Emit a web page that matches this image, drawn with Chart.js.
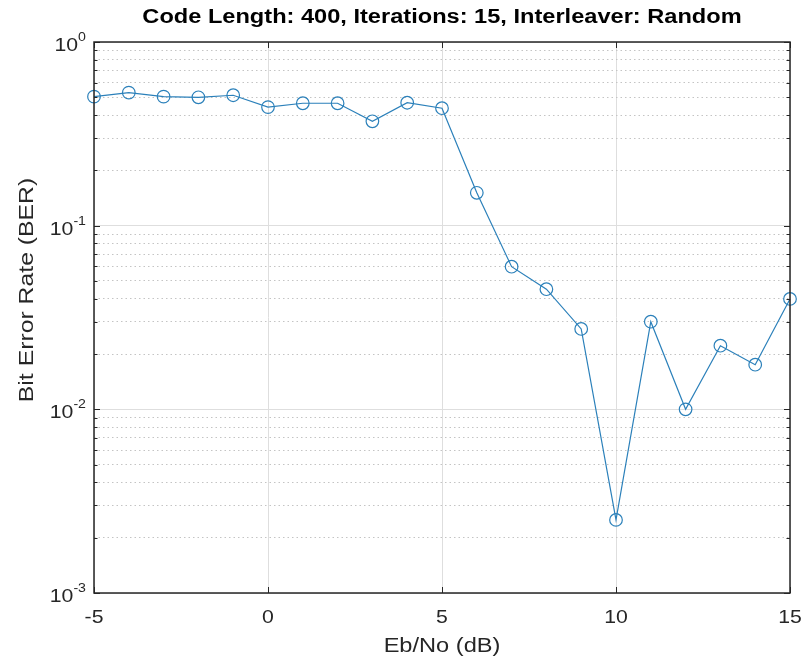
<!DOCTYPE html>
<html><head><meta charset="utf-8">
<script src="https://cdn.jsdelivr.net/npm/chart.js@4.4.0/dist/chart.umd.min.js"></script>
<style>html,body{margin:0;padding:0;background:#fff}#wrap{width:806px;height:662px;position:relative}</style>
</head><body><div id="wrap"><canvas id="c"></canvas></div>
<script>
const ebNo = [-5, -4, -3, -2, -1, 0, 1, 2, 3, 4, 5, 6, 7, 8, 9, 10, 11, 12, 13, 14, 15];
const ber = [0.504, 0.530, 0.504, 0.500, 0.513, 0.442, 0.464, 0.464, 0.370, 0.467, 0.436,
             0.151, 0.0598, 0.0451, 0.0274, 0.0025, 0.0300, 0.0100, 0.0222, 0.0175, 0.0399];
const xTicks = [-5, 0, 5, 10, 15];
const yDecades = [0.001, 0.01, 0.1, 1];
const yExponents = ['-3', '-2', '-1', '0'];
const titleText = 'Code Length: 400, Iterations: 15, Interleaver: Random';
const xLabel = 'Eb/No (dB)';
const yLabel = 'Bit Error Rate (BER)';

const FONT = '"Liberation Sans", Arial, Helvetica, sans-serif';
const AX = '#262626';
const LINE = '#2b80ba';
const SX = 1.18; // horizontal text stretch seen in the reference

(function () {
  const P = CanvasRenderingContext2D.prototype;
  const ft = P.fillText;
  P.fillText = function (t, x, y, mw) {
    this.save();
    this.translate(x, y);
    this.scale(SX, 1);
    if (mw !== undefined && mw !== null) ft.call(this, t, 0, 0, mw / SX); else ft.call(this, t, 0, 0);
    this.restore();
  };
})();

const yTickVals = [];
yDecades.forEach((d, i) => {
  yTickVals.push(d);
  if (i < yDecades.length - 1) for (let m = 2; m <= 9; m++) yTickVals.push(+(d * m).toPrecision(6));
});
const isMajor = v => Math.abs(Math.log10(v) - Math.round(Math.log10(v))) < 1e-6;

const decor = {
  id: 'decor',
  beforeDraw(chart) {
    const ctx = chart.ctx;
    ctx.save(); ctx.fillStyle = '#fff'; ctx.fillRect(0, 0, chart.width, chart.height); ctx.restore();
  },
  afterLayout(chart) {
    const tb = chart.titleBlock;
    if (tb) { tb.left = chart.chartArea.left; tb.right = chart.chartArea.right; tb.width = tb.right - tb.left; }
  },
  afterDraw(chart) {
    const {ctx, chartArea: a, scales: {x, y}} = chart;
    ctx.save();
    ctx.strokeStyle = AX;
    ctx.lineWidth = 1;
    ctx.beginPath();
    yTickVals.forEach(v => {
      const py = Math.round(y.getPixelForValue(v)) + 0.5;
      const len = isMajor(v) ? 6 : 3.5;
      ctx.moveTo(a.left, py); ctx.lineTo(a.left + len, py);
      ctx.moveTo(a.right, py); ctx.lineTo(a.right - len, py);
    });
    xTicks.forEach(v => {
      const px = Math.round(x.getPixelForValue(v)) + 0.5;
      ctx.moveTo(px, a.bottom); ctx.lineTo(px, a.bottom - 6);
      ctx.moveTo(px, a.top); ctx.lineTo(px, a.top + 6);
    });
    ctx.stroke();
    ctx.lineWidth = 1.5;
    ctx.strokeRect(a.left, a.top, a.right - a.left, a.bottom - a.top);
    ctx.fillStyle = AX;
    ctx.textAlign = 'right';
    yDecades.forEach((d, i) => {
      const py = y.getPixelForValue(d);
      const xr = a.left - 8;
      ctx.font = '12px ' + FONT;
      ctx.textBaseline = 'alphabetic';
      const ew = ctx.measureText(yExponents[i]).width * SX;
      ctx.fillText(yExponents[i], xr, py - 1);
      ctx.font = '18px ' + FONT;
      ctx.textBaseline = 'middle';
      ctx.fillText('10', xr - ew, py + 4);
    });
    // y axis title
    ctx.save();
    ctx.translate(27, a.top + (a.bottom - a.top) * 0.45);
    ctx.rotate(-Math.PI / 2);
    ctx.textAlign = 'center';
    ctx.textBaseline = 'middle';
    ctx.font = '21px ' + FONT;
    ctx.fillText(yLabel, 0, 0);
    ctx.restore();
    ctx.restore();
  }
};

new Chart(document.getElementById('c'), {
  type: 'line',
  data: {
    datasets: [{
      data: ebNo.map((v, i) => ({x: v, y: ber[i]})),
      borderColor: LINE,
      borderWidth: 1.2,
      pointRadius: 6.3,
      pointHoverRadius: 6.3,
      pointBorderWidth: 1.2,
      pointBorderColor: LINE,
      pointBackgroundColor: 'rgba(0,0,0,0)',
      tension: 0,
      clip: false
    }]
  },
  options: {
    responsive: true,
    maintainAspectRatio: false,
    animation: false,
    layout: {padding: {left: 0, right: 16, top: 0, bottom: 0}},
    plugins: {
      legend: {display: false},
      tooltip: {enabled: false},
      title: {
        display: true, text: titleText, color: '#000',
        font: {family: FONT, size: 20, weight: 'bold'},
        padding: {top: 5, bottom: 13}
      }
    },
    scales: {
      x: {
        type: 'linear', min: -5, max: 15,
        afterBuildTicks: s => { s.ticks = xTicks.map(v => ({value: v})); },
        afterFit: s => { s.height = 69; },
        ticks: {color: AX, font: {family: FONT, size: 18}, padding: 0, maxRotation: 0, autoSkip: false},
        grid: {color: '#dedede', lineWidth: 1, drawTicks: true, tickLength: 14, tickColor: 'rgba(0,0,0,0)'},
        border: {display: false},
        title: {display: true, text: xLabel, color: AX, font: {family: FONT, size: 20}, padding: {top: 0, bottom: 4}}
      },
      y: {
        type: 'logarithmic', min: 0.001, max: 1,
        afterBuildTicks: s => { s.ticks = yTickVals.map(v => ({value: v})); },
        afterFit: s => { s.width = 94; },
        ticks: {display: false, autoSkip: false},
        grid: {
          drawTicks: false,
          color: c => (c.tick && isMajor(c.tick.value)) ? '#dedede' : '#c4c4c4',
          lineWidth: 1
        },
        border: {
          display: false,
          dash: c => (c.tick && isMajor(c.tick.value)) ? [] : [1.5, 3]
        },
        title: {display: false, text: yLabel}
      }
    }
  },
  plugins: [decor]
});
</script></body></html>
